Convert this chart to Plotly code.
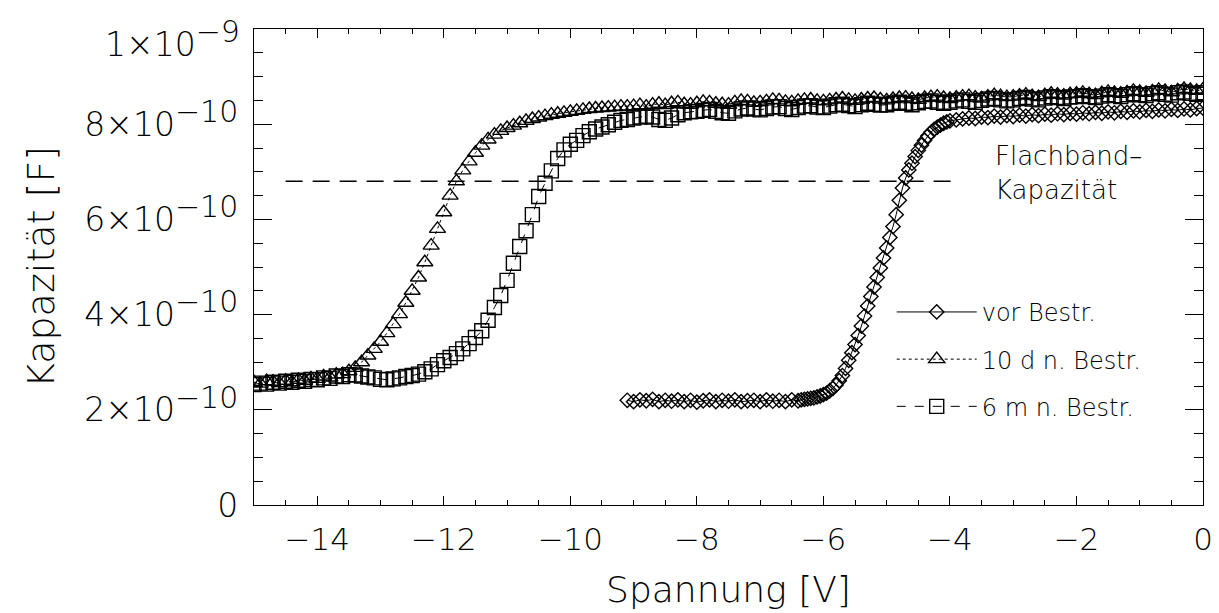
import plotly.graph_objects as go

# ---------------- data (capacitance in units of 1e-10 F) ----------------
VOLTAGE = [
    -15.0, -14.9, -14.8, -14.7, -14.6, -14.5, -14.4, -14.3, -14.2, -14.1,
    -14.0, -13.9, -13.8, -13.7, -13.6, -13.5, -13.4, -13.3, -13.2, -13.1,
    -13.0, -12.9, -12.8, -12.7, -12.6, -12.5, -12.4, -12.3, -12.2, -12.1,
    -12.0, -11.9, -11.8, -11.7, -11.6, -11.5, -11.4, -11.3, -11.2, -11.1,
    -11.0, -10.9, -10.8, -10.7, -10.6, -10.5, -10.4, -10.3, -10.2, -10.1,
    -10.0, -9.9, -9.8, -9.7, -9.6, -9.5, -9.4, -9.3, -9.2, -9.1,
    -9.0, -8.9, -8.8, -8.7, -8.6, -8.5, -8.4, -8.3, -8.2, -8.1,
    -8.0, -7.9, -7.8, -7.7, -7.6, -7.5, -7.4, -7.3, -7.2, -7.1,
    -7.0, -6.9, -6.8, -6.7, -6.6, -6.5, -6.4, -6.3, -6.2, -6.1,
    -6.0, -5.9, -5.8, -5.7, -5.6, -5.5, -5.4, -5.3, -5.2, -5.1,
    -5.0, -4.9, -4.8, -4.7, -4.6, -4.5, -4.4, -4.3, -4.2, -4.1,
    -4.0, -3.9, -3.8, -3.7, -3.6, -3.5, -3.4, -3.3, -3.2, -3.1,
    -3.0, -2.9, -2.8, -2.7, -2.6, -2.5, -2.4, -2.3, -2.2, -2.1,
    -2.0, -1.9, -1.8, -1.7, -1.6, -1.5, -1.4, -1.3, -1.2, -1.1,
    -1.0, -0.9, -0.8, -0.7, -0.6, -0.5, -0.4, -0.3, -0.2, -0.1,
    0.0,
]

CAP_10D = [
    2.58, 2.55, 2.60, 2.59, 2.56, 2.61, 2.58, 2.63, 2.61, 2.66,
    2.65, 2.70, 2.68, 2.74, 2.75, 2.81, 2.88, 3.00, 3.14, 3.28,
    3.43, 3.61, 3.80, 4.01, 4.25, 4.50, 4.78, 5.10, 5.45, 5.80,
    6.15, 6.50, 6.80, 7.03, 7.22, 7.40, 7.55, 7.68, 7.78, 7.86,
    7.92, 7.97, 8.02, 8.07, 8.11, 8.14, 8.17, 8.20, 8.22, 8.24,
    8.26, 8.28, 8.30, 8.32, 8.33, 8.34, 8.35, 8.36, 8.37, 8.37,
    8.38, 8.40, 8.37, 8.41, 8.43, 8.40, 8.44, 8.46, 8.42, 8.41,
    8.44, 8.47, 8.46, 8.43, 8.42, 8.41, 8.46, 8.49, 8.48, 8.45,
    8.46, 8.48, 8.51, 8.50, 8.47, 8.46, 8.49, 8.51, 8.52, 8.49,
    8.48, 8.50, 8.52, 8.54, 8.51, 8.49, 8.52, 8.54, 8.55, 8.52,
    8.50, 8.53, 8.55, 8.56, 8.53, 8.51, 8.55, 8.57, 8.58, 8.55,
    8.53, 8.56, 8.58, 8.59, 8.56, 8.54, 8.58, 8.61, 8.59, 8.57,
    8.58, 8.60, 8.62, 8.59, 8.57, 8.61, 8.64, 8.62, 8.60, 8.63,
    8.64, 8.66, 8.63, 8.61, 8.65, 8.68, 8.66, 8.64, 8.67, 8.70,
    8.68, 8.66, 8.69, 8.72, 8.70, 8.67, 8.71, 8.74, 8.72, 8.70,
    8.73,
]

CAP_6M = [
    2.53, 2.56, 2.54, 2.58, 2.56, 2.60, 2.58, 2.62, 2.60, 2.64,
    2.63, 2.67, 2.66, 2.71, 2.70, 2.74, 2.73, 2.71, 2.69, 2.67,
    2.64, 2.63, 2.65, 2.67, 2.70, 2.72, 2.75, 2.80, 2.86, 2.95,
    3.03, 3.10, 3.18, 3.28, 3.39, 3.52, 3.66, 3.88, 4.15, 4.40,
    4.72, 5.08, 5.43, 5.76, 6.10, 6.48, 6.76, 7.02, 7.28, 7.46,
    7.58, 7.66, 7.76, 7.84, 7.90, 7.94, 7.99, 8.04, 8.08, 8.10,
    8.13, 8.15, 8.17, 8.15, 8.10, 8.08, 8.13, 8.20, 8.24, 8.26,
    8.27, 8.29, 8.31, 8.27, 8.24, 8.23, 8.28, 8.32, 8.34, 8.32,
    8.30, 8.33, 8.36, 8.37, 8.33, 8.31, 8.35, 8.38, 8.39, 8.36,
    8.35, 8.38, 8.41, 8.42, 8.39, 8.37, 8.41, 8.44, 8.42, 8.40,
    8.41, 8.44, 8.46, 8.44, 8.41, 8.45, 8.48, 8.49, 8.46, 8.44,
    8.46, 8.49, 8.51, 8.48, 8.46, 8.50, 8.53, 8.54, 8.51, 8.49,
    8.51, 8.54, 8.56, 8.53, 8.51, 8.55, 8.58, 8.56, 8.54, 8.57,
    8.58, 8.60, 8.58, 8.56, 8.59, 8.62, 8.60, 8.58, 8.62, 8.64,
    8.62, 8.60, 8.64, 8.66, 8.63, 8.61, 8.66, 8.68, 8.65, 8.63,
    8.66,
]

VOLTAGE_VOR = [
    -9.1, -9.0, -8.9, -8.8, -8.7, -8.6, -8.5, -8.4, -8.3, -8.2,
    -8.1, -8.0, -7.9, -7.8, -7.7, -7.6, -7.5, -7.4, -7.3, -7.2,
    -7.1, -7.0, -6.9, -6.8, -6.7, -6.6, -6.5, -6.4,
    -6.35, -6.30, -6.25, -6.20, -6.15, -6.10, -6.05, -6.00, -5.95, -5.90,
    -5.85, -5.80, -5.75, -5.70, -5.65, -5.60, -5.55, -5.50, -5.45, -5.40,
    -5.35, -5.30, -5.25, -5.20, -5.15, -5.10, -5.05, -5.00, -4.95, -4.90,
    -4.85, -4.80, -4.75, -4.70, -4.65, -4.60, -4.55, -4.50, -4.45, -4.40,
    -4.35, -4.30, -4.25, -4.20, -4.15, -4.10, -4.05, -4.00,
    -3.9, -3.8, -3.7, -3.6, -3.5, -3.4, -3.3, -3.2, -3.1, -3.0,
    -2.9, -2.8, -2.7, -2.6, -2.5, -2.4, -2.3, -2.2, -2.1, -2.0,
    -1.9, -1.8, -1.7, -1.6, -1.5, -1.4, -1.3, -1.2, -1.1, -1.0,
    -0.9, -0.8, -0.7, -0.6, -0.5, -0.4, -0.3, -0.2, -0.1, 0.0,
]

CAP_VOR = [
    2.20, 2.17, 2.21, 2.19, 2.22, 2.17, 2.20, 2.18, 2.21, 2.17,
    2.20, 2.16, 2.19, 2.21, 2.17, 2.20, 2.18, 2.21, 2.17, 2.19,
    2.20, 2.17, 2.21, 2.18, 2.20, 2.17, 2.21, 2.19,
    2.21, 2.22, 2.23, 2.24, 2.25, 2.27, 2.29, 2.32, 2.35, 2.40,
    2.45, 2.52, 2.61, 2.72, 2.87, 3.04, 3.20, 3.37, 3.56, 3.76,
    3.97, 4.18, 4.38, 4.58, 4.78, 4.98, 5.19, 5.40, 5.62, 5.85,
    6.10, 6.40, 6.66, 6.87, 7.04, 7.18, 7.32, 7.45, 7.56, 7.66,
    7.75, 7.83, 7.89, 7.94, 7.98, 8.02, 8.05, 8.07,
    8.09, 8.11, 8.13, 8.12, 8.15, 8.14, 8.17, 8.15, 8.18, 8.16,
    8.19, 8.17, 8.20, 8.18, 8.21, 8.19, 8.22, 8.20, 8.23, 8.21,
    8.24, 8.22, 8.25, 8.23, 8.26, 8.24, 8.27, 8.25, 8.28, 8.26,
    8.29, 8.27, 8.30, 8.28, 8.31, 8.29, 8.32, 8.30, 8.33, 8.34,
]

UNIT = 1e-10
FLATBAND_LEVEL = 6.8e-10
FLATBAND_V = [-14.5, -3.95]

Y_TICKVALS = [0, 2e-10, 4e-10, 6e-10, 8e-10, 1e-9]
Y_TICKTEXT = ["0", "2×10", "4×10", "6×10", "8×10", "1×10"]
Y_EXPONENTS = ["", "−10", "−10", "−10", "−10", "−9"]

SERIES_NAMES = ["vor Bestr.", "10 d n. Bestr.", "6 m n. Bestr."]

FONT = "DejaVu Sans"
WEIGHT = 200


def label(base, exp):
    if not exp:
        return base
    return base + "<sup><span style='font-size:30px'>" + exp + "</span></sup>"


all_labels = [label(b, e) for b, e in zip(Y_TICKTEXT, Y_EXPONENTS)]
# the topmost label is drawn as an annotation (shifted down, as in the original)
ticktext = all_labels[:-1] + [""]


def font(size):
    return dict(family=FONT, size=size, color="black", weight=WEIGHT)


MLW = 1.4

fig = go.Figure()

fig.add_trace(go.Scatter(
    x=VOLTAGE_VOR, y=[c * UNIT for c in CAP_VOR], name=SERIES_NAMES[0],
    mode="lines+markers", legendgroup="a",
    line=dict(color="black", width=1, dash="solid"),
    marker=dict(symbol="diamond-open", size=11, color="black", line=dict(width=MLW, color="black")),
))
fig.add_trace(go.Scatter(
    x=VOLTAGE, y=[c * UNIT for c in CAP_10D], name=SERIES_NAMES[1],
    mode="lines+markers", legendgroup="b",
    line=dict(color="black", width=1, dash="dot"),
    marker=dict(symbol="triangle-up-open", size=14, color="black", line=dict(width=MLW, color="black")),
))
fig.add_trace(go.Scatter(
    x=VOLTAGE, y=[c * UNIT for c in CAP_6M], name=SERIES_NAMES[2],
    mode="lines+markers", legendgroup="c",
    line=dict(color="black", width=1, dash="dash"),
    marker=dict(symbol="square-open", size=14, color="black", line=dict(width=MLW, color="black")),
))

fig.add_shape(type="line", xref="x", yref="y",
              x0=FLATBAND_V[0], x1=FLATBAND_V[1], y0=FLATBAND_LEVEL, y1=FLATBAND_LEVEL,
              line=dict(color="black", width=1.5, dash="17px,10px"))

fig.add_annotation(x=FLATBAND_V[1] + 0.63, y=FLATBAND_LEVEL + 0.17e-10, xref="x", yref="y",
                   text="Flachband–<br>Kapazität", showarrow=False,
                   xanchor="left", yanchor="middle", align="left",
                   font=font(26))

# top y tick label
fig.add_annotation(x=0, y=Y_TICKVALS[-1], xref="paper", yref="y",
                   text=all_labels[-1], showarrow=False,
                   xanchor="right", yanchor="middle", xshift=-12, yshift=-10,
                   font=font(33))

axis_common = dict(showline=True, linecolor="black", linewidth=1.2, mirror="ticks",
                   ticks="inside", tickcolor="black", showgrid=False, zeroline=False,
                   automargin=False)

fig.update_xaxes(
    range=[-15, 0], tick0=0, dtick=2, ticklen=9, tickwidth=1.2,
    tickfont=font(31),
    title=dict(text="Spannung [V]", font=font(36), standoff=20),
    minor=dict(ticks="inside", dtick=0.5, tick0=0, ticklen=5, tickcolor="black", tickwidth=1),
    ticklabelstandoff=7,
    **axis_common,
)
fig.update_yaxes(
    range=[0, 1e-9], tickmode="array", tickvals=Y_TICKVALS, ticktext=ticktext,
    ticklen=18, tickwidth=1.2,
    tickfont=font(33),
    title=dict(text="Kapazität [F]", font=font(38), standoff=18),
    minor=dict(ticks="inside", tickmode="linear", dtick=0.5e-10, tick0=0, ticklen=9,
               tickcolor="black", tickwidth=1),
    ticklabelstandoff=8,
    **axis_common,
)

fig.update_layout(
    width=1219, height=613,
    margin=dict(l=254, r=16, t=29, b=108),
    paper_bgcolor="white", plot_bgcolor="white",
    showlegend=True,
    legend=dict(x=0.672, y=0.452, xanchor="left", yanchor="top",
                bgcolor="rgba(0,0,0,0)", borderwidth=0,
                font=font(24),
                tracegroupgap=13, itemwidth=80, traceorder="grouped"),
)

fig.write_html("out.html")
